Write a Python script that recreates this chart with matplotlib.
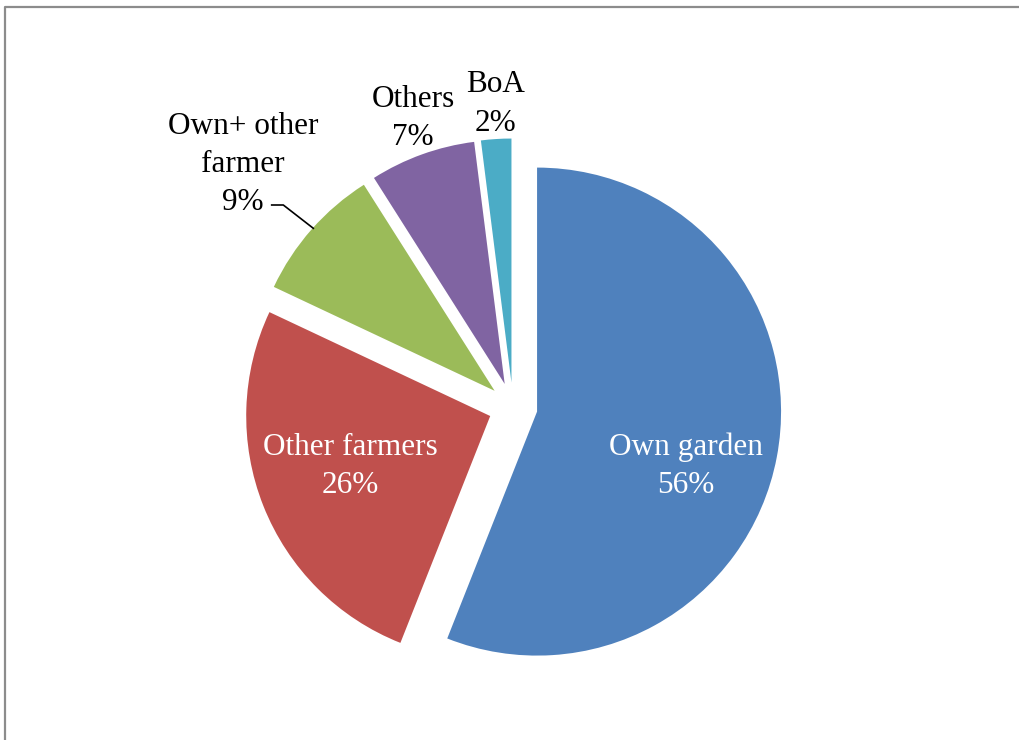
import matplotlib
matplotlib.use('Agg')
import matplotlib.pyplot as plt

categories = ["Own garden", "Other farmers", "Own+ other\nfarmer", "Others", "BoA"]
values = [56, 26, 9, 7, 2]
colors = ["#4F81BD", "#C0504D", "#9BBB59", "#8064A2", "#4BACC6"]
text_colors = ["white", "white", "black", "black", "black"]

W, H = 1019, 740
fig = plt.figure(figsize=(W / 100, H / 100), dpi=100)
ax = fig.add_axes([0, 0, 1, 1])

center = (513, H - 407)
radius = 244
wedges, _ = ax.pie(values, colors=colors, startangle=90, counterclock=False,
                   explode=[24.5] * len(values), center=center, radius=radius,
                   wedgeprops=dict(linewidth=0))
ax.set_xlim(0, W)
ax.set_ylim(0, H)
ax.set_aspect('equal')
ax.axis('off')

# label placement (pixel positions from top-left)
label_pos = [(686, 466.5), (350, 466.5), (243, 164.5), (413, 118.5), (496, 104)]
for cat, val, tc, (px, py) in zip(categories, values, text_colors, label_pos):
    ax.text(px, H - py, f"{cat}\n{val}%", ha='center', va='center',
            color=tc, fontsize=22.5, family='Liberation Serif', linespacing=1.42)

# leader line for the green slice label
ax.plot([271.7, 283.3, 313.3], [H - 205, H - 205, H - 228.3], color='black', lw=1.2)

# chart frame
ax.plot([5, 5, W + 10], [-10, H - 7, H - 7], color='#8c8c8c', lw=1.6, clip_on=False)

fig.savefig('out.png', dpi=100)
